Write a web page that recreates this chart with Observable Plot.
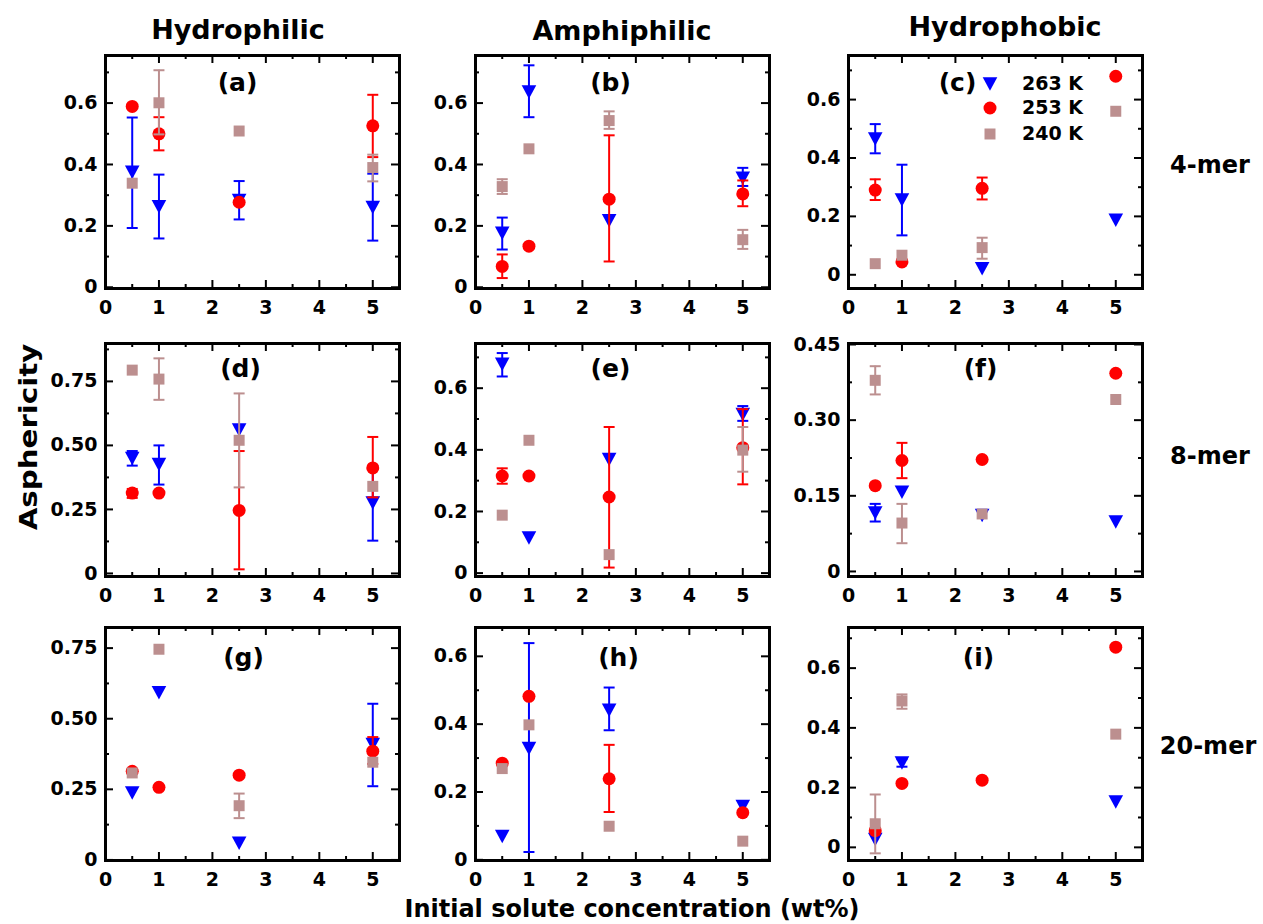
<!DOCTYPE html>
<html><head><meta charset="utf-8">
<script src="https://cdn.jsdelivr.net/npm/d3@7"></script>
<script src="https://cdn.jsdelivr.net/npm/@observablehq/plot@0.6"></script>
<style>
body{margin:0;background:#fff;}
#root{position:relative;width:1263px;height:924px;font-family:"DejaVu Sans",sans-serif;font-weight:bold;color:#000;overflow:hidden;}
.lbl{position:absolute;transform:translate(-50%,-50%);white-space:nowrap;line-height:1;}
.panel{position:absolute;}
.leg{position:absolute;white-space:nowrap;line-height:1;font-size:19px;}
</style></head><body><div id="root"></div>
<script>
// ---------- data ----------
const temps = ["263 K", "253 K", "240 K"];
const colors = ["#0000ff", "#ff0000", "#bc8f8f"];
const columnTitles = ["Hydrophilic", "Amphiphilic", "Hydrophobic"];
const rowTitles = ["4-mer", "8-mer", "20-mer"];
const panelLetters = ["(a)", "(b)", "(c)", "(d)", "(e)", "(f)", "(g)", "(h)", "(i)"];
const xTickLabels = [0, 1, 2, 3, 4, 5];
const xLabel = "Initial solute concentration (wt%)";
const yLabel = "Asphericity";

// rows: [temperature, concentration (wt%), asphericity, error low, error high]
const dataA = [
  ["263 K", 0.5, 0.375, 0.193, 0.553], ["263 K", 1, 0.262, 0.159, 0.367], ["263 K", 2.5, 0.283, 0.221, 0.346], ["263 K", 5, 0.26, 0.152, 0.37],
  ["253 K", 0.5, 0.589, null, null], ["253 K", 1, 0.5, 0.446, 0.554], ["253 K", 2.5, 0.277, null, null], ["253 K", 5, 0.526, 0.424, 0.627],
  ["240 K", 0.5, 0.339, null, null], ["240 K", 1, 0.601, 0.498, 0.707], ["240 K", 2.5, 0.509, null, null], ["240 K", 5, 0.39, 0.345, 0.432]
];
const dataB = [
  ["263 K", 0.5, 0.176, 0.123, 0.227], ["263 K", 1, 0.636, 0.554, 0.723], ["263 K", 2.5, 0.217, null, null], ["263 K", 5, 0.355, 0.33, 0.389],
  ["253 K", 0.5, 0.068, 0.03, 0.107], ["253 K", 1, 0.134, null, null], ["253 K", 2.5, 0.287, 0.084, 0.495], ["253 K", 5, 0.304, 0.264, 0.348],
  ["240 K", 0.5, 0.328, 0.304, 0.352], ["240 K", 1, 0.451, null, null], ["240 K", 2.5, 0.543, 0.516, 0.573], ["240 K", 5, 0.155, 0.125, 0.187]
];
const dataC = [
  ["263 K", 0.5, 0.465, 0.416, 0.516], ["263 K", 1, 0.256, 0.135, 0.377], ["263 K", 2.5, 0.021, null, null], ["263 K", 5, 0.187, null, null],
  ["253 K", 0.5, 0.29, 0.256, 0.327], ["253 K", 1, 0.044, null, null], ["253 K", 2.5, 0.296, 0.258, 0.333], ["253 K", 5, 0.68, null, null],
  ["240 K", 0.5, 0.038, null, null], ["240 K", 1, 0.067, null, null], ["240 K", 2.5, 0.093, 0.055, 0.127], ["240 K", 5, 0.56, null, null]
];
const dataD = [
  ["263 K", 0.5, 0.449, 0.421, 0.478], ["263 K", 1, 0.425, 0.347, 0.5], ["263 K", 2.5, 0.56, null, null], ["263 K", 5, 0.275, 0.128, 0.42],
  ["253 K", 0.5, 0.314, 0.295, 0.33], ["253 K", 1, 0.314, null, null], ["253 K", 2.5, 0.246, 0.016, 0.478], ["253 K", 5, 0.412, 0.297, 0.533],
  ["240 K", 0.5, 0.794, null, null], ["240 K", 1, 0.759, 0.678, 0.84], ["240 K", 2.5, 0.52, 0.336, 0.703], ["240 K", 5, 0.34, null, null]
];
const dataE = [
  ["263 K", 0.5, 0.678, 0.638, 0.714], ["263 K", 1, 0.114, null, null], ["263 K", 2.5, 0.369, null, null], ["263 K", 5, 0.515, 0.494, 0.542],
  ["253 K", 0.5, 0.315, 0.29, 0.34], ["253 K", 1, 0.315, null, null], ["253 K", 2.5, 0.247, 0.018, 0.474], ["253 K", 5, 0.407, 0.288, 0.532],
  ["240 K", 0.5, 0.188, null, null], ["240 K", 1, 0.431, null, null], ["240 K", 2.5, 0.06, null, null], ["240 K", 5, 0.399, 0.329, 0.474]
];
const dataF = [
  ["263 K", 0.5, 0.116, 0.099, 0.134], ["263 K", 1, 0.157, null, null], ["263 K", 2.5, 0.111, null, null], ["263 K", 5, 0.098, null, null],
  ["253 K", 0.5, 0.17, null, null], ["253 K", 1, 0.22, 0.185, 0.255], ["253 K", 2.5, 0.222, null, null], ["253 K", 5, 0.393, null, null],
  ["240 K", 0.5, 0.379, 0.351, 0.407], ["240 K", 1, 0.096, 0.056, 0.134], ["240 K", 2.5, 0.114, null, null], ["240 K", 5, 0.341, null, null]
];
const dataG = [
  ["263 K", 0.5, 0.237, null, null], ["263 K", 1, 0.592, null, null], ["263 K", 2.5, 0.059, null, null], ["263 K", 5, 0.409, 0.261, 0.553],
  ["253 K", 0.5, 0.314, null, null], ["253 K", 1, 0.257, null, null], ["253 K", 2.5, 0.3, null, null], ["253 K", 5, 0.385, 0.34, 0.435],
  ["240 K", 0.5, 0.308, null, null], ["240 K", 1, 0.746, null, null], ["240 K", 2.5, 0.192, 0.148, 0.235], ["240 K", 5, 0.346, null, null]
];
const dataH = [
  ["263 K", 0.5, 0.069, null, null], ["263 K", 1, 0.328, 0.023, 0.639], ["263 K", 2.5, 0.441, 0.382, 0.508], ["263 K", 5, 0.157, null, null],
  ["253 K", 0.5, 0.285, null, null], ["253 K", 1, 0.482, null, null], ["253 K", 2.5, 0.239, 0.141, 0.339], ["253 K", 5, 0.139, null, null],
  ["240 K", 0.5, 0.269, null, null], ["240 K", 1, 0.398, null, null], ["240 K", 2.5, 0.099, null, null], ["240 K", 5, 0.055, null, null]
];
const dataI = [
  ["263 K", 0.5, 0.026, null, null], ["263 K", 1, 0.282, 0.27, 0.295], ["263 K", 5, 0.152, null, null],
  ["253 K", 0.5, 0.056, null, null], ["253 K", 1, 0.214, null, null], ["253 K", 2.5, 0.225, null, null], ["253 K", 5, 0.67, null, null],
  ["240 K", 0.5, 0.079, -0.02, 0.177], ["240 K", 1, 0.49, 0.464, 0.512], ["240 K", 5, 0.379, null, null]
];
const panelData = [dataA, dataB, dataC, dataD, dataE, dataF, dataG, dataH, dataI];

// y axis: domain and labelled ticks per panel
const yDomains = [[-0.004, 0.755], [-0.004, 0.755], [-0.047, 0.751], [-0.012, 0.898], [-0.011, 0.745], [-0.01, 0.452], [-0.002, 0.823], [-0.002, 0.685], [-0.044, 0.736]];
const yTickLabels = [
  [0, 0.2, 0.4, 0.6], [0, 0.2, 0.4, 0.6], [0, 0.2, 0.4, 0.6],
  [0, 0.25, 0.5, 0.75], [0, 0.2, 0.4, 0.6], [0, 0.15, 0.3, 0.45],
  [0, 0.25, 0.5, 0.75], [0, 0.2, 0.4, 0.6], [0, 0.2, 0.4, 0.6]
];

// ---------- layout ----------
const colLeft = [105, 475, 848];
const rowTop = [55, 343, 627];
const innerW = 294, innerH = 233;
const mL = 70, mR = 12, mT = 12, mB = 42;
const letterDx = [-15, -12, -38, -12, -12, -15, -9, -4, -17];
const letterDy = [27, 27, 27, 25, 25, 25, 30, 30, 30];
const FONT = "DejaVu Sans";

const triDown = {draw(ctx, size) { const r = Math.sqrt(size / Math.PI); const h = r * 1.85; ctx.moveTo(-r, -h / 2); ctx.lineTo(r, -h / 2); ctx.lineTo(0, h / 2); ctx.closePath(); }};
const capSym = {draw(ctx) { ctx.moveTo(-5.5, 0); ctx.lineTo(5.5, 0); }};
const symbols = {"263 K": triDown, "253 K": "circle", "240 K": "square"};
const sizes = {"263 K": 7.3, "253 K": 6.5, "240 K": 6.2};

const root = document.getElementById("root");

function fmtFor(labels) {
  const step = labels[1];
  const dec = Math.round(step * 100) % 10 === 0 ? 1 : 2;
  return d => d === 0 ? "0" : d.toFixed(dec);
}

panelData.forEach((rows, p) => {
  const col = p % 3, row = Math.floor(p / 3);
  const [y0, y1] = yDomains[p];
  const labels = yTickLabels[p];
  const half = labels[1] / 2;
  const yMinor = d3.range(0, y1 + 1e-9, half).filter(v => !labels.some(l => Math.abs(l - v) < 1e-9));
  const xMinor = [0.5, 1.5, 2.5, 3.5, 4.5];
  const recs = rows.map(([t, x, y, lo, hi]) => ({t, x, y, lo, hi}));
  const marks = [];
  // inward ticks on all four sides
  const maj = 8, mnr = 4;
  const tick = {stroke: "black", strokeWidth: 2};
  marks.push(
    Plot.tickY(labels, {y: d => d, insetRight: innerW - maj, ...tick}),
    Plot.tickY(labels, {y: d => d, insetLeft: innerW - maj, ...tick}),
    Plot.tickY(yMinor, {y: d => d, insetRight: innerW - mnr, ...tick}),
    Plot.tickY(yMinor, {y: d => d, insetLeft: innerW - mnr, ...tick}),
    Plot.tickX(xTickLabels, {x: d => d, insetTop: innerH - maj, ...tick}),
    Plot.tickX(xTickLabels, {x: d => d, insetBottom: innerH - maj, ...tick}),
    Plot.tickX(xMinor, {x: d => d, insetTop: innerH - mnr, ...tick}),
    Plot.tickX(xMinor, {x: d => d, insetBottom: innerH - mnr, ...tick})
  );
  temps.forEach((t, k) => {
    const s = recs.filter(d => d.t === t);
    const e = s.filter(d => d.lo != null);
    marks.push(
      Plot.ruleX(e, {x: "x", y1: "lo", y2: "hi", stroke: colors[k], strokeWidth: 2}),
      Plot.dot(e, {x: "x", y: "lo", symbol: capSym, stroke: colors[k], strokeWidth: 2, r: 3}),
      Plot.dot(e, {x: "x", y: "hi", symbol: capSym, stroke: colors[k], strokeWidth: 2, r: 3}),
      Plot.dot(s, {x: "x", y: "y", symbol: symbols[t], fill: colors[k], stroke: "none", r: sizes[t]})
    );
  });
  marks.push(
    Plot.frame({stroke: "black", strokeWidth: 3}),
    Plot.axisY(labels, {tickSize: 0, tickPadding: 8, tickFormat: fmtFor(labels), fontSize: 19, fontWeight: "bold", fontFamily: FONT}),
    Plot.axisX(xTickLabels, {tickSize: 0, tickPadding: 12, tickFormat: d => String(d), fontSize: 19, fontWeight: "bold", fontFamily: FONT}),
    Plot.text([panelLetters[p]], {frameAnchor: "top", dx: letterDx[p], dy: letterDy[p], text: d => d, lineAnchor: "middle", fontSize: 25, fontWeight: "bold", fontFamily: FONT, fill: "black"})
  );
  const svg = Plot.plot({
    width: mL + innerW + mR, height: mT + innerH + mB,
    marginLeft: mL, marginRight: mR, marginTop: mT, marginBottom: mB,
    x: {domain: [0, 5.5], label: null},
    y: {domain: [y0, y1], label: null},
    style: {fontFamily: FONT, fontWeight: "bold", background: "transparent", overflow: "visible"},
    marks
  });
  svg.classList.add("panel");
  svg.style.left = (colLeft[col] - mL) + "px";
  svg.style.top = (rowTop[row] - mT) + "px";
  root.appendChild(svg);
});

function addLabel(text, x, y, size, extra = "") {
  const d = document.createElement("div");
  d.className = "lbl";
  d.textContent = text;
  d.style.left = x + "px";
  d.style.top = y + "px";
  d.style.fontSize = size + "px";
  if (extra) d.style.transform = "translate(-50%,-50%) " + extra;
  root.appendChild(d);
}
const colTitlePos = [[238, 29], [622, 30], [1005, 26]];
columnTitles.forEach((t, i) => addLabel(t, colTitlePos[i][0], colTitlePos[i][1], 27));
const rowTitlePos = [[1210, 165], [1210, 456], [1208, 746]];
rowTitles.forEach((t, i) => addLabel(t, rowTitlePos[i][0], rowTitlePos[i][1], 24));
addLabel(yLabel, 29, 437, 24, "rotate(-90deg) scaleX(1.22)");
addLabel(xLabel, 632, 909, 24);

// legend in panel (c)
const legY = [84, 108, 134];
temps.forEach((t, k) => {
  const sv = d3.create("svg").attr("width", 20).attr("height", 20)
    .style("position", "absolute").style("left", "980px").style("top", (legY[k] - 10) + "px");
  const r = sizes[t];
  const path = d3.symbol(t === "263 K" ? triDown : (t === "253 K" ? d3.symbolCircle : d3.symbolSquare), Math.PI * r * r)();
  sv.append("path").attr("transform", "translate(10,10)").attr("d", path).attr("fill", colors[k]);
  root.appendChild(sv.node());
  const d = document.createElement("div");
  d.className = "leg";
  d.textContent = t;
  d.style.left = "1022px";
  d.style.top = (legY[k] - 10) + "px";
  root.appendChild(d);
});
</script></body></html>
